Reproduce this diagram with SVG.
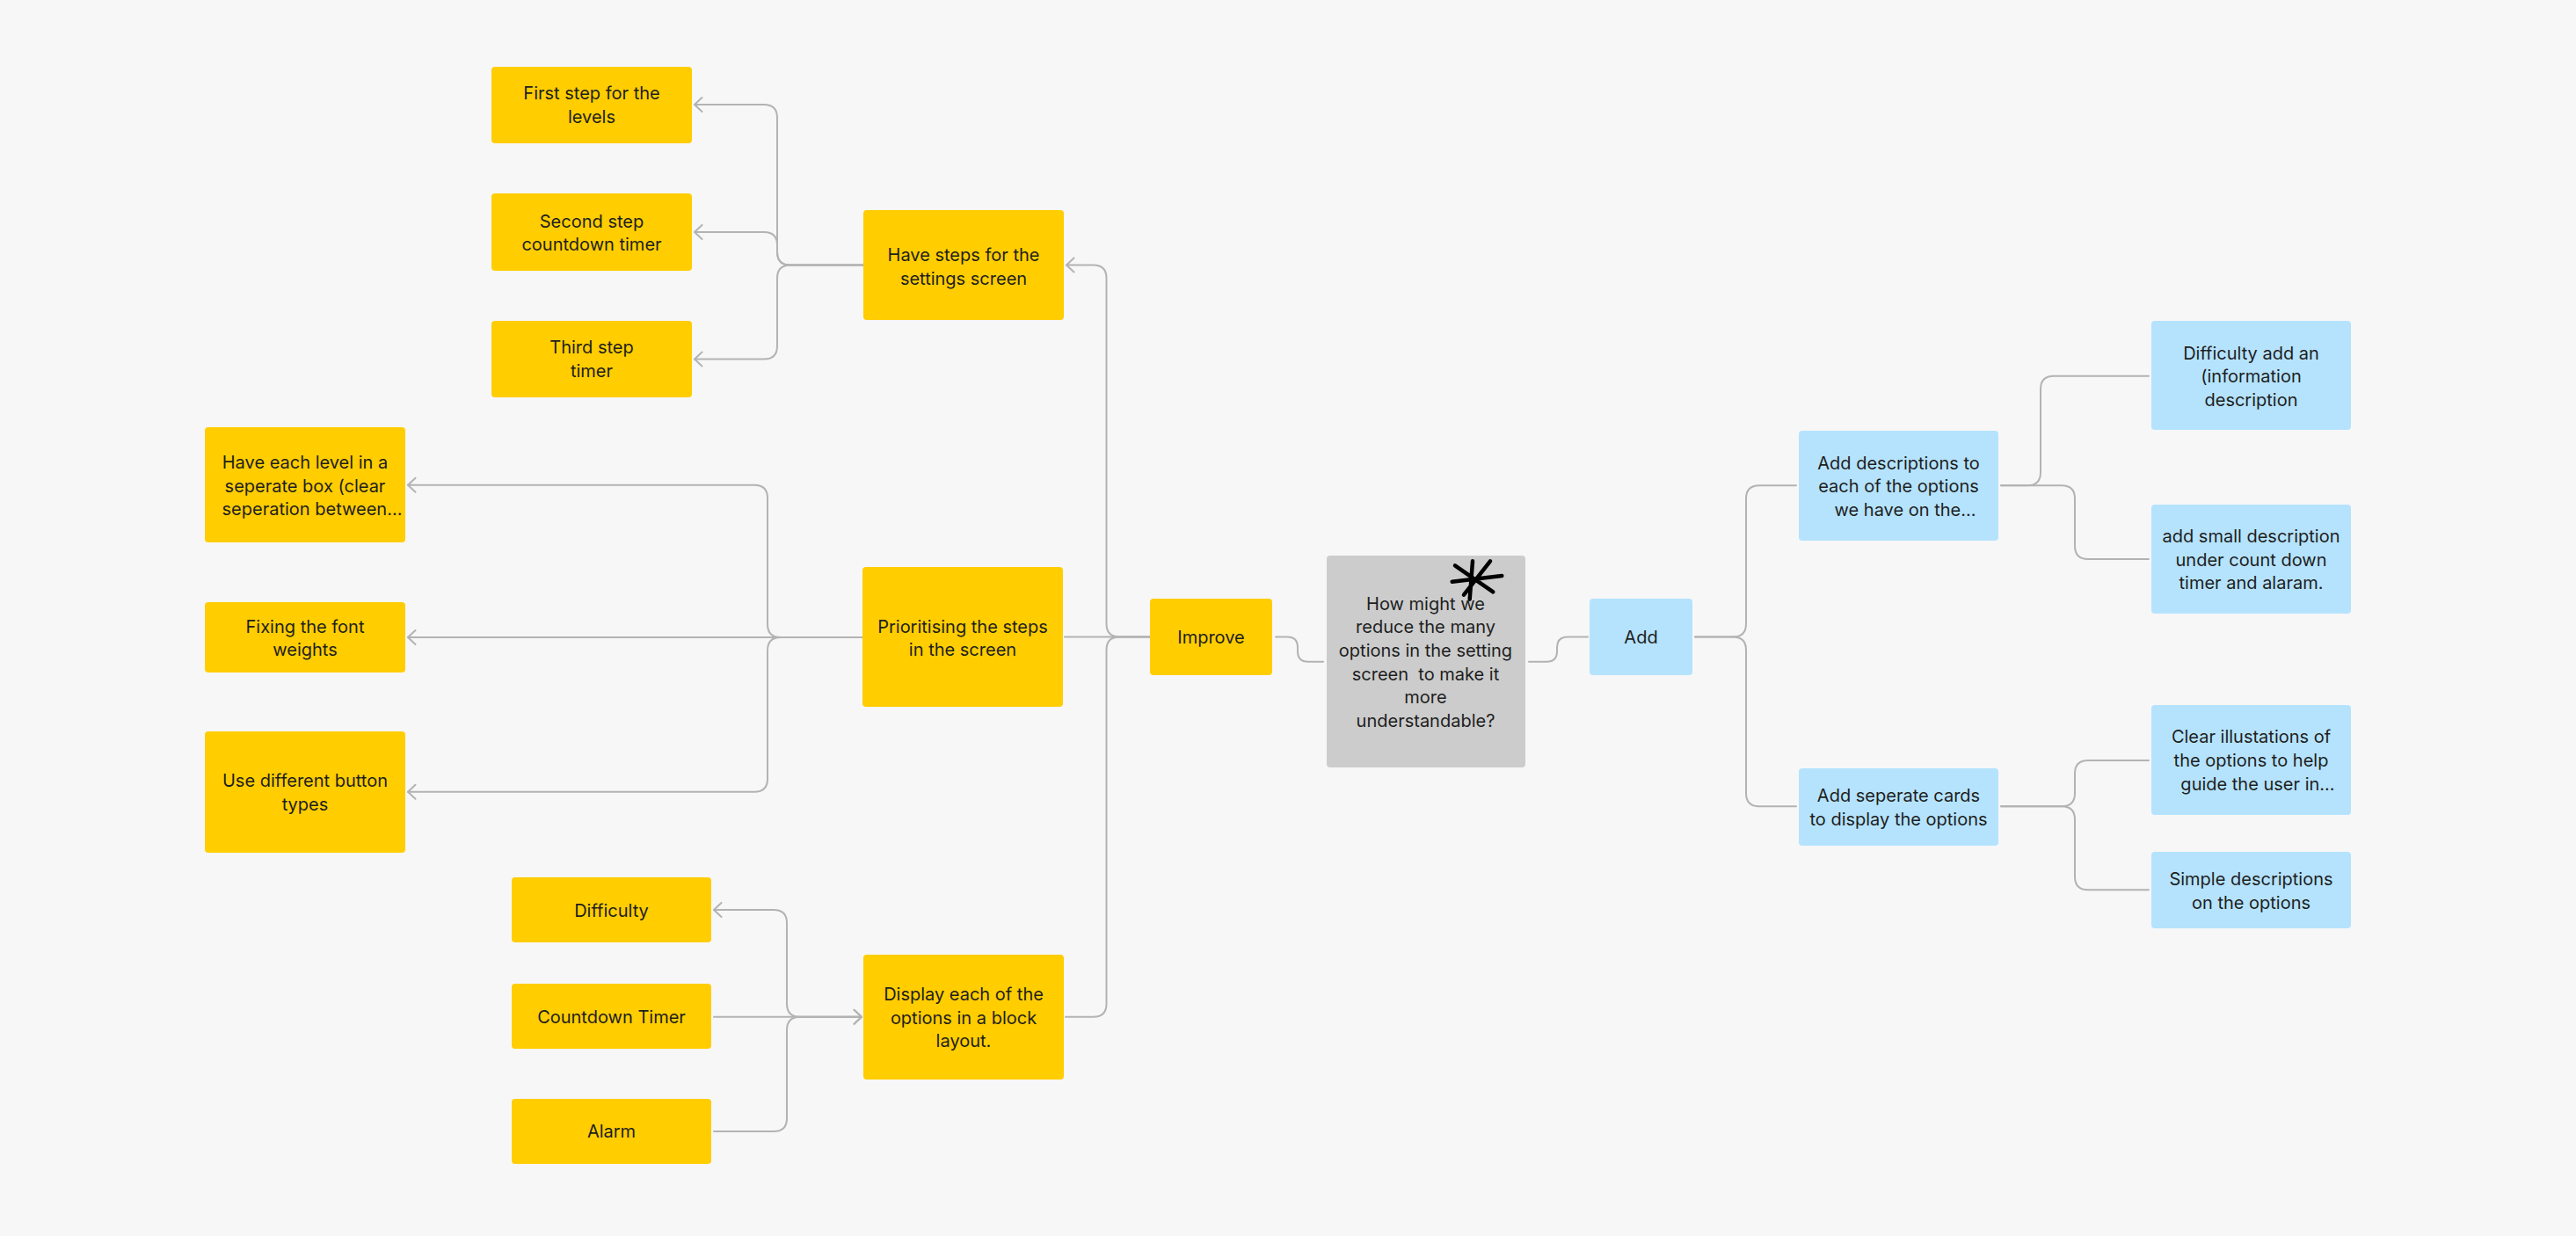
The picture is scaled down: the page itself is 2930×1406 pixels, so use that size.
<svg xmlns="http://www.w3.org/2000/svg" width="2930" height="1406" viewBox="0 0 2930 1406">
<style>
.bg{fill:#f7f7f7}
.y{fill:#ffcd00}
.b{fill:#b5e3fd}
.g{fill:#cccccc}
.t{font-family:Inter,"Noto Sans","Liberation Sans",sans-serif;font-size:20px;fill:#1e1e1e;text-anchor:middle}
.c{fill:none;stroke:#b3b3b3;stroke-width:2;stroke-linecap:round;stroke-linejoin:round}
.ast{fill:none;stroke:#000;stroke-width:4.5;stroke-linecap:round}
</style>
<defs>
<marker id="arr" markerUnits="userSpaceOnUse" orient="auto" overflow="visible" refX="0" refY="0" markerWidth="20" markerHeight="20">
<path d="M -8.5 -8 L 0 0 L -8.5 8" fill="none" stroke="#b3b3b3" stroke-width="2" stroke-linecap="round" stroke-linejoin="round"/>
</marker>
</defs>
<rect class="bg" x="0" y="0" width="2930" height="1406"/>

<g id="connectors">
<!-- Have steps -> children -->
<path class="c" marker-end="url(#arr)" d="M 982 301.5 H 899 Q 884 301.5 884 286.5 V 134 Q 884 119 869 119 H 790"/>
<path class="c" marker-end="url(#arr)" d="M 982 301.5 H 899 Q 884 301.5 884 286.5 V 279 Q 884 264 869 264 H 790"/>
<path class="c" marker-end="url(#arr)" d="M 982 301.5 H 899 Q 884 301.5 884 316.5 V 393.5 Q 884 408.5 869 408.5 H 790"/>
<!-- Prioritising -> children -->
<path class="c" marker-end="url(#arr)" d="M 981 725 H 888 Q 873 725 873 710 V 566.7 Q 873 551.7 858 551.7 H 464"/>
<path class="c" marker-end="url(#arr)" d="M 981 725 H 464"/>
<path class="c" marker-end="url(#arr)" d="M 981 725 H 888 Q 873 725 873 740 V 885.7 Q 873 900.7 858 900.7 H 464"/>
<!-- Display group -->
<path class="c" marker-end="url(#arr)" d="M 980 1156.7 H 910 Q 895 1156.7 895 1141.7 V 1050 Q 895 1035 880 1035 H 812"/>
<path class="c" marker-end="url(#arr)" d="M 812 1156.7 H 980"/>
<path class="c" marker-end="url(#arr)" d="M 812 1287 H 880 Q 895 1287 895 1272 V 1171.7 Q 895 1156.7 910 1156.7 H 980"/>
<!-- Improve -> left -->
<path class="c" marker-end="url(#arr)" d="M 1308 724.5 H 1273.5 Q 1258.5 724.5 1258.5 709.5 V 316.5 Q 1258.5 301.5 1243.5 301.5 H 1213"/>
<path class="c" d="M 1308 724.5 H 1211"/>
<path class="c" d="M 1308 724.5 H 1273.5 Q 1258.5 724.5 1258.5 739.5 V 1141.7 Q 1258.5 1156.7 1243.5 1156.7 H 1212"/>
<!-- Improve - center - Add -->
<path class="c" d="M 1451 724.5 H 1464 Q 1476 724.5 1476 736.5 V 740.7 Q 1476 752.7 1488 752.7 H 1505"/>
<path class="c" d="M 1739 752.7 H 1759 Q 1771 752.7 1771 740.7 V 736.5 Q 1771 724.5 1783 724.5 H 1806"/>
<!-- Add -> right -->
<path class="c" d="M 1928 724.5 H 1971 Q 1986 724.5 1986 709.5 V 567.3 Q 1986 552.3 2001 552.3 H 2043"/>
<path class="c" d="M 1928 724.5 H 1971 Q 1986 724.5 1986 739.5 V 902.3 Q 1986 917.3 2001 917.3 H 2043"/>
<!-- Add descriptions -> right -->
<path class="c" d="M 2276 552.3 H 2306 Q 2321 552.3 2321 537.3 V 442.7 Q 2321 427.7 2336 427.7 H 2444"/>
<path class="c" d="M 2276 552.3 H 2345 Q 2360 552.3 2360 567.3 V 621 Q 2360 636 2375 636 H 2444"/>
<!-- Add seperate cards -> right -->
<path class="c" d="M 2276 917.3 H 2345 Q 2360 917.3 2360 902.3 V 880 Q 2360 865 2375 865 H 2444"/>
<path class="c" d="M 2276 917.3 H 2345 Q 2360 917.3 2360 932.3 V 997.3 Q 2360 1012.3 2375 1012.3 H 2444"/>
</g>

<g id="n-first-step"><rect class="y" x="559" y="76" width="228" height="87" rx="4"/>
<text class="t"><tspan x="673" y="113">First step for the</tspan><tspan x="673" y="139.6">levels</tspan></text></g>
<g id="n-second-step"><rect class="y" x="559" y="220" width="228" height="88" rx="4"/>
<text class="t"><tspan x="673" y="258.7">Second step</tspan><tspan x="673" y="285.3">countdown timer</tspan></text></g>
<g id="n-third-step"><rect class="y" x="559" y="365" width="228" height="87" rx="4"/>
<text class="t"><tspan x="673" y="402">Third step</tspan><tspan x="673" y="428.7">timer</tspan></text></g>
<g id="n-have-steps"><rect class="y" x="982" y="239" width="228" height="125" rx="4"/>
<text class="t"><tspan x="1096" y="297">Have steps for the</tspan><tspan x="1096" y="323.7">settings screen</tspan></text></g>

<g id="n-each-level"><rect class="y" x="233" y="486" width="228" height="131" rx="4"/>
<text class="t"><tspan x="347" y="533">Have each level in a</tspan><tspan x="347" y="559.7">seperate box (clear</tspan><tspan x="355" y="586.3">seperation between...</tspan></text></g>
<g id="n-font-weights"><rect class="y" x="233" y="685" width="228" height="80" rx="4"/>
<text class="t"><tspan x="347" y="719.7">Fixing the font</tspan><tspan x="347" y="746.3">weights</tspan></text></g>
<g id="n-button-types"><rect class="y" x="233" y="832" width="228" height="138" rx="4"/>
<text class="t"><tspan x="347" y="895.3">Use different button</tspan><tspan x="347" y="922">types</tspan></text></g>
<g id="n-prioritising"><rect class="y" x="981" y="645" width="228" height="159" rx="4"/>
<text class="t"><tspan x="1095" y="719.7">Prioritising the steps</tspan><tspan x="1095" y="746.3">in the screen</tspan></text></g>

<g id="n-difficulty"><rect class="y" x="582" y="998" width="227" height="74" rx="4"/>
<text class="t"><tspan x="695.5" y="1043">Difficulty</tspan></text></g>
<g id="n-countdown"><rect class="y" x="582" y="1119" width="227" height="74" rx="4"/>
<text class="t"><tspan x="695.5" y="1163.7">Countdown Timer</tspan></text></g>
<g id="n-alarm"><rect class="y" x="582" y="1250" width="227" height="74" rx="4"/>
<text class="t"><tspan x="695.5" y="1294.3">Alarm</tspan></text></g>
<g id="n-display"><rect class="y" x="982" y="1086" width="228" height="142" rx="4"/>
<text class="t"><tspan x="1096" y="1138">Display each of the</tspan><tspan x="1096" y="1164.7">options in a block</tspan><tspan x="1096" y="1191.3">layout.</tspan></text></g>

<g id="n-improve"><rect class="y" x="1308" y="681" width="139" height="87" rx="4"/>
<text class="t"><tspan x="1377.5" y="732">Improve</tspan></text></g>

<g id="n-central"><rect class="g" x="1509" y="632" width="226" height="241" rx="4"/>
<text class="t" xml:space="preserve"><tspan x="1621.5" y="693.7">How might we</tspan><tspan x="1621.5" y="720.3">reduce the many</tspan><tspan x="1621.5" y="747">options in the setting</tspan><tspan x="1621.5" y="773.7">screen  to make it</tspan><tspan x="1621.5" y="800.3">more</tspan><tspan x="1621.5" y="827">understandable?</tspan></text>
<path class="ast" d="M 1675 638.3 L 1671.7 681.7 M 1655 643.3 L 1698.3 673.3 M 1695 638.3 L 1665 676.7 M 1651.7 661.7 L 1708.3 655"/></g>

<g id="n-add"><rect class="b" x="1808" y="681" width="117" height="87" rx="4"/>
<text class="t"><tspan x="1866.5" y="732">Add</tspan></text></g>

<g id="n-add-descriptions"><rect class="b" x="2046" y="490" width="227" height="125" rx="4"/>
<text class="t"><tspan x="2159.5" y="533.7">Add descriptions to</tspan><tspan x="2159.5" y="560.3">each of the options</tspan><tspan x="2167" y="587">we have on the...</tspan></text></g>
<g id="n-add-cards"><rect class="b" x="2046" y="874" width="227" height="88" rx="4"/>
<text class="t"><tspan x="2159.5" y="912">Add seperate cards</tspan><tspan x="2159.5" y="938.7">to display the options</tspan></text></g>

<g id="n-difficulty-info"><rect class="b" x="2447" y="365" width="227" height="124" rx="4"/>
<text class="t"><tspan x="2560.5" y="408.7">Difficulty add an</tspan><tspan x="2560.5" y="435.3">(information</tspan><tspan x="2560.5" y="462">description</tspan></text></g>
<g id="n-small-description"><rect class="b" x="2447" y="574" width="227" height="124" rx="4"/>
<text class="t"><tspan x="2560.5" y="617">add small description</tspan><tspan x="2560.5" y="643.7">under count down</tspan><tspan x="2560.5" y="670.3">timer and alaram.</tspan></text></g>
<g id="n-illustrations"><rect class="b" x="2447" y="802" width="227" height="125" rx="4"/>
<text class="t"><tspan x="2560.5" y="845.3">Clear illustations of</tspan><tspan x="2560.5" y="872">the options to help</tspan><tspan x="2568" y="898.7">guide the user in...</tspan></text></g>
<g id="n-simple-descriptions"><rect class="b" x="2447" y="969" width="227" height="87" rx="4"/>
<text class="t"><tspan x="2560.5" y="1007">Simple descriptions</tspan><tspan x="2560.5" y="1033.7">on the options</tspan></text></g>
</svg>
